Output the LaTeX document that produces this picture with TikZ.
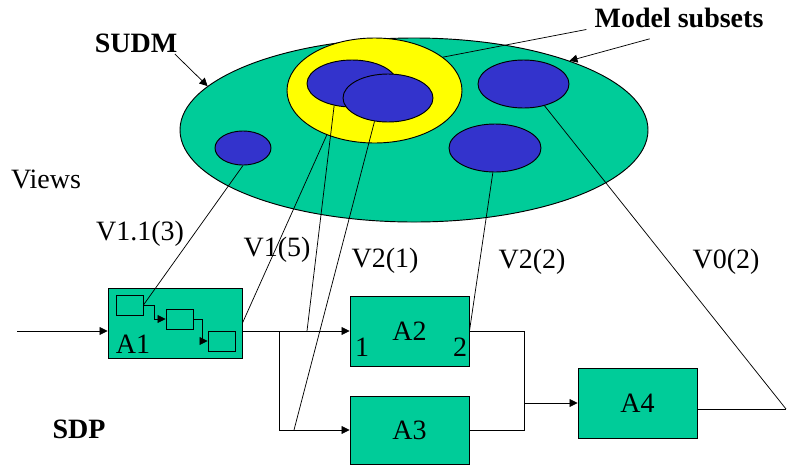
\documentclass[tikz,border=0pt]{standalone}
\usepackage{fontspec}
\setmainfont{Liberation Serif}
\usetikzlibrary{arrows.meta,positioning,shapes.geometric,calc}
\definecolor{sudmfill}{HTML}{00CC99}
\definecolor{subset}{HTML}{3333CC}
\definecolor{shared}{HTML}{FFFF00}

\begin{document}
\begin{tikzpicture}[x=0.75pt, y=-0.75pt,
  font=\fontsize{21}{25}\selectfont,
  >={Triangle[length=6pt,width=6pt]},
  blob/.style={ellipse, draw, line width=0.7pt, inner sep=0pt},
  act/.style={draw, line width=0.7pt, fill=sudmfill, minimum width=89.25pt, minimum height=52.5pt, inner sep=0pt},
  subbox/.style={draw, line width=0.7pt, minimum width=20.25pt, minimum height=15pt, inner sep=0pt},
  flow/.style={line width=0.55pt},
  tag/.style={inner sep=1pt}]
  \useasboundingbox (0,0) rectangle (788,465);

  % SUDM and its model subsets
  \node[blob, fill=sudmfill, minimum width=351pt, minimum height=138pt] (sudm) at (414,130) {};
  \node[blob, fill=shared, minimum width=131.25pt, minimum height=78.75pt] (yel) at (374.5,90.5) {};
  \node[blob, fill=subset, minimum width=67.5pt, minimum height=35.25pt] (ms1) at (352,83.5) {};
  \node[blob, fill=subset, minimum width=67.5pt, minimum height=36pt] (ms2) at (388,98) {};
  \node[blob, fill=subset, minimum width=68.25pt, minimum height=36pt] (ms3) at (523.5,84) {};
  \node[blob, fill=subset, minimum width=69pt, minimum height=36pt] (ms4) at (495,148) {};
  \node[blob, fill=subset, minimum width=42pt, minimum height=25.5pt] (ms0) at (243,148) {};

  \node[tag, font=\fontsize{21}{25}\selectfont\bfseries] (sudmlbl) at (136,43) {SUDM};
  \node[tag, font=\fontsize{21}{25}\selectfont\bfseries] (subsetlbl) at (679,18) {Model subsets};
  \node[tag] (views) at (46,179) {Views};
  \node[tag] (v11) at (140,234) {V1.1(3)};
  \node[tag] (v15) at (277,250) {V1(5)};
  \node[tag] (v21) at (385,261) {V2(1)};
  \node[tag] (v22) at (532,262) {V2(2)};
  \node[tag] (v02) at (726,262) {V0(2)};
  \node[tag, font=\fontsize{21}{25}\selectfont\bfseries] (sdp) at (79,429) {SDP};

  % SDP activities
  \node[act, minimum width=100.5pt] (A1) at (175,323) {};
  \node[subbox] (b1) at (129.5,305) {};
  \node[subbox] (b2) at (179.5,319) {};
  \node[subbox] (b3) at (221.5,341) {};
  \node[tag, anchor=base west] (a1lbl) at ([xshift=5pt,yshift=3.75pt]A1.south west) {A1};
  \node[act] (A2) at (409.5,331) {A2};
  \node[tag, anchor=base west] (in1) at ([xshift=3pt,yshift=7.5pt]A2.south west) {1};
  \node[tag, anchor=base east] (out2) at ([xshift=-0.5pt,yshift=7.5pt]A2.south east) {2};
  \node[act, minimum height=51pt] (A3) at (409.5,430) {A3};
  \node[act] (A4) at (637.5,403) {A4};

  \coordinate (src) at (17,331);
  \coordinate (a1out) at ([yshift=-6pt]A1.east);
  \coordinate (fork) at (279,331);
  \coordinate (tap1) at (307,331);
  \coordinate (tap2) at (294,430);
  \coordinate (join) at (524,403);
  \coordinate (sink) at (786,409);

  % flow
  \draw[flow,->] (src) -- ([yshift=-6pt]A1.west);
  \draw[flow,->] (b1.east) -- ++(8pt,0) |- (b2.west);
  \draw[flow,->] (b2.east) -- ++(6.5pt,0) |- (b3.west);
  \draw[flow,->] (a1out) -- (A2.west);
  \draw[flow,->] (fork) |- (A3.west);
  \draw[flow] (A2.east) -| (join);
  \draw[flow] (A3.east) -| (join);
  \draw[flow,->] (join) -- (A4.west);
  \draw[flow] ([yshift=-4.5pt]A4.east) -- (sink);

  % views
  \draw[flow] (ms0.south) -- (b1.east);
  \draw[flow] (yel.223) -- (A1.east) -- (a1out);
  \draw[flow] (ms1.231) -- (tap1);
  \draw[flow] (ms2.240) -- (tap2);
  \draw[flow] (ms4.265) -- (A2.east);
  \draw[flow] (ms3.-46) -- (sink);

  % callouts
  \draw[flow,->] ([xshift=-3pt]sudmlbl.south east) -- (sudm.168);
  \draw[flow] ([xshift=-5pt]subsetlbl.south west) -- (yel.26);
  \draw[flow,->] ([xshift=-22pt,yshift=-7pt]subsetlbl.south) -- (sudm.24);
\end{tikzpicture}
\end{document}
